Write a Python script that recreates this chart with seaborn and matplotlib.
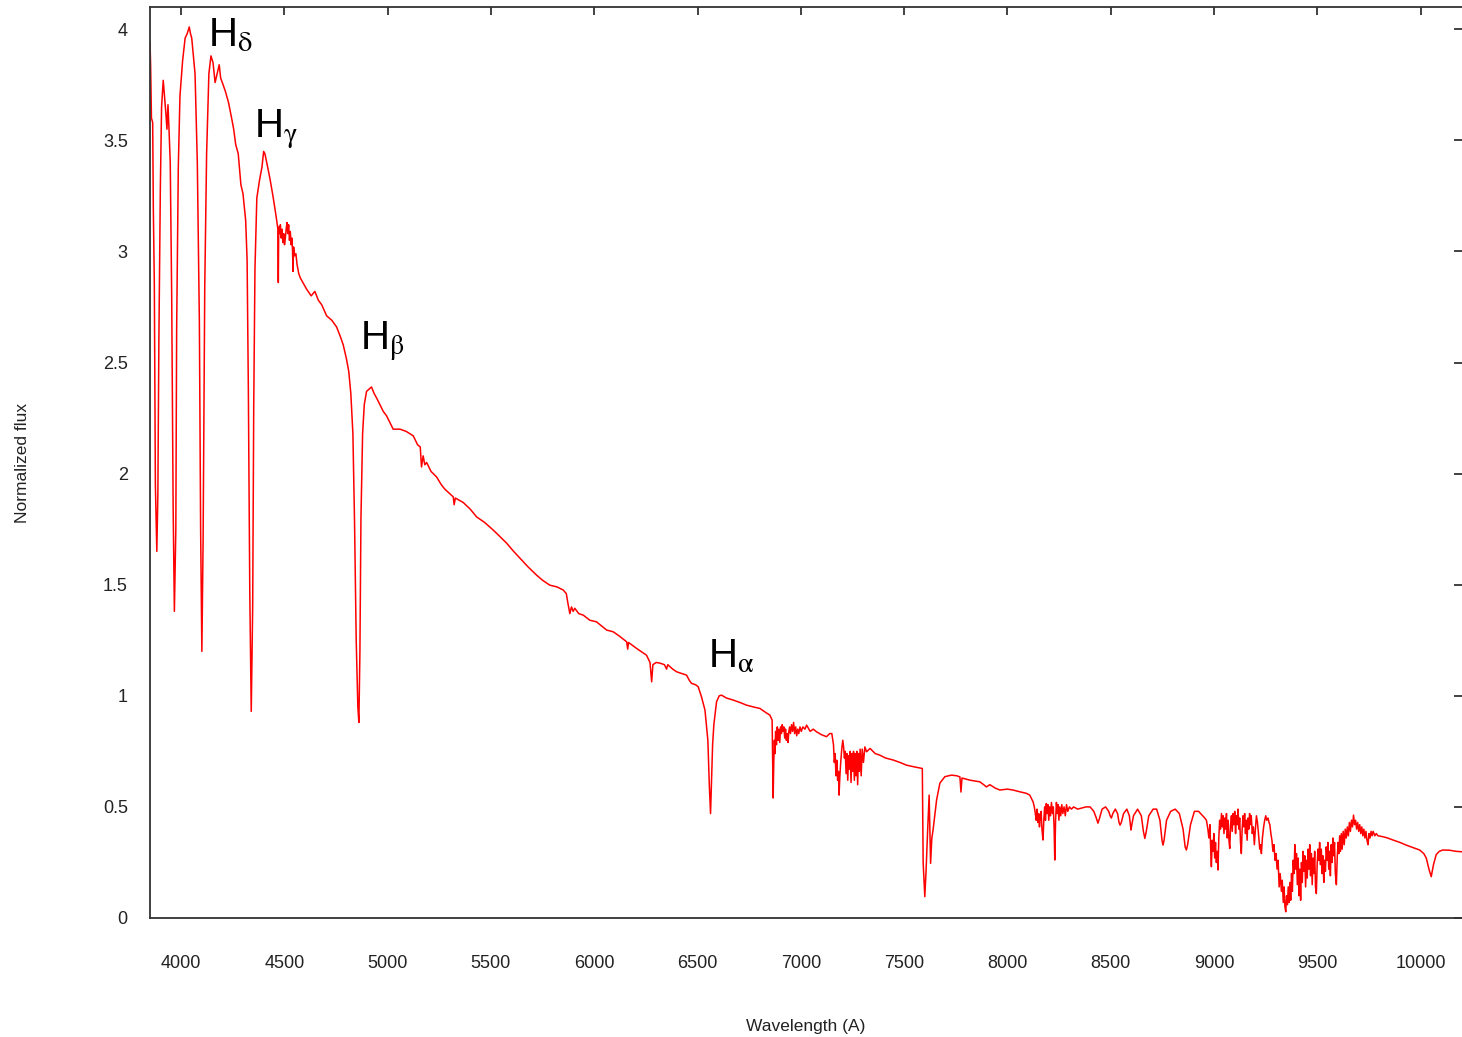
import matplotlib
matplotlib.use('Agg')
import matplotlib.pyplot as plt
import seaborn as sns

# spectrum, piece by piece (wavelength in A, normalized flux)
wl_blue = [3850, 3853, 3857, 3863, 3866, 3871, 3876, 3883, 3888, 3893,
           3900, 3906, 3914, 3920, 3927, 3932, 3937, 3942, 3948, 3955,
           3962, 3968, 3975, 3979, 3987, 3995, 4008, 4020, 4030, 4040,
           4046, 4052, 4068, 4079, 4089, 4095, 4101, 4107, 4115, 4124,
           4135, 4145, 4155, 4165, 4175, 4185, 4192, 4200, 4215, 4230,
           4245, 4255, 4265, 4277, 4290, 4300, 4313, 4320, 4326, 4333,
           4340, 4347, 4352, 4358, 4367, 4380, 4392, 4400, 4406, 4415,
           4430, 4445, 4460]
flux_blue = [3.94, 3.84, 3.60, 3.58, 3.20, 2.85, 1.95, 1.65, 1.90, 2.60,
             3.28, 3.65, 3.77, 3.70, 3.62, 3.55, 3.66, 3.55, 3.40, 2.80,
             1.85, 1.38, 1.75, 2.65, 3.38, 3.70, 3.86, 3.96, 3.98, 4.01,
             3.98, 3.96, 3.80, 3.40, 2.68, 1.75, 1.20, 1.70, 2.84, 3.44,
             3.80, 3.88, 3.85, 3.76, 3.80, 3.84, 3.78, 3.76, 3.72, 3.67,
             3.60, 3.55, 3.48, 3.44, 3.30, 3.26, 3.14, 2.96, 2.38, 1.46,
             0.93, 1.40, 2.30, 2.92, 3.24, 3.32, 3.38, 3.45, 3.44, 3.40,
             3.33, 3.25, 3.16]

wl_4500 = [4466, 4469, 4471, 4473, 4477, 4481, 4485, 4489, 4493, 4497,
           4501, 4505, 4509, 4513, 4517, 4521, 4525, 4529, 4533, 4537,
           4540, 4542, 4545, 4550, 4556, 4562, 4570, 4578, 4590]
flux_4500 = [3.12, 3.10, 2.86, 3.11, 3.08, 3.12, 3.06, 3.10, 3.04, 3.08,
             3.03, 3.06, 3.10, 3.13, 3.08, 3.12, 3.05, 3.09, 3.03, 3.06,
             3.00, 2.91, 3.02, 2.98, 2.99, 2.94, 2.90, 2.88, 2.86]

wl_visual = [4608, 4630, 4648, 4665, 4681, 4705, 4730, 4753, 4770, 4785,
             4800, 4812, 4822, 4832, 4840, 4848, 4856, 4861, 4866, 4871,
             4879, 4887, 4898, 4910, 4922, 4935, 4947, 4963, 4979, 4995,
             5011, 5027, 5060, 5090, 5124, 5145, 5158, 5164, 5172, 5180,
             5189, 5210, 5237, 5260, 5277, 5300, 5318, 5322, 5328, 5366,
             5400, 5431, 5470, 5511, 5540, 5576, 5610, 5640, 5680, 5721,
             5750, 5785, 5820, 5850, 5865, 5872, 5882, 5890, 5898, 5906,
             5925, 5947, 5979, 6011, 6060, 6092, 6120, 6157, 6162, 6166,
             6210, 6253, 6270, 6278, 6284, 6300, 6318, 6340, 6350, 6356,
             6380, 6399, 6425, 6447, 6460, 6471, 6490, 6503, 6519, 6536,
             6550, 6557, 6563, 6568, 6573, 6579, 6592, 6605, 6616, 6640,
             6672, 6705, 6737, 6770, 6802, 6830, 6850, 6861]
flux_visual = [2.83, 2.80, 2.82, 2.78, 2.76, 2.71, 2.69, 2.66, 2.62, 2.58,
               2.52, 2.46, 2.36, 2.18, 1.78, 1.25, 0.95, 0.88, 1.20, 1.80,
               2.18, 2.31, 2.37, 2.38, 2.39, 2.36, 2.34, 2.31, 2.28, 2.26,
               2.23, 2.20, 2.20, 2.19, 2.17, 2.13, 2.12, 2.03, 2.08, 2.04,
               2.05, 2.01, 1.985, 1.95, 1.93, 1.91, 1.895, 1.86, 1.89, 1.87,
               1.84, 1.805, 1.78, 1.746, 1.72, 1.687, 1.65, 1.62, 1.58, 1.543,
               1.52, 1.498, 1.49, 1.476, 1.46, 1.42, 1.37, 1.40, 1.38, 1.394,
               1.37, 1.363, 1.34, 1.333, 1.296, 1.288, 1.27, 1.243, 1.21, 1.24,
               1.21, 1.183, 1.15, 1.063, 1.14, 1.15, 1.147, 1.14, 1.12, 1.14,
               1.12, 1.108, 1.10, 1.093, 1.07, 1.056, 1.05, 1.041, 0.996, 0.936,
               0.80, 0.60, 0.47, 0.62, 0.78, 0.87, 0.973, 1.0, 1.003, 0.99,
               0.981, 0.97, 0.958, 0.95, 0.943, 0.925, 0.913, 0.891]

wl_b_band = [6866, 6869, 6872, 6875, 6878, 6882, 6886, 6890, 6894, 6898,
             6902, 6906, 6910, 6914, 6918, 6922, 6926, 6930, 6934, 6938,
             6942, 6946, 6950, 6955, 6960, 6965, 6970, 6975, 6980, 6985,
             6990, 6996, 7002, 7010, 7020, 7028,
             7045, 7060, 7076, 7100, 7124, 7140, 7150]
flux_b_band = [0.54, 0.70, 0.80, 0.74, 0.84, 0.78, 0.86, 0.80, 0.85, 0.79,
               0.86, 0.83, 0.87, 0.84, 0.86, 0.81, 0.85, 0.80, 0.83, 0.79,
               0.84, 0.86, 0.83, 0.87, 0.84, 0.88, 0.83, 0.86, 0.82, 0.85,
               0.83, 0.86, 0.84, 0.86, 0.85, 0.868,
               0.84, 0.85, 0.838, 0.825, 0.816, 0.83, 0.83]

wl_7200 = [7155, 7158, 7162, 7166, 7170, 7174, 7178, 7182, 7185,
           7189, 7193, 7198, 7203, 7207, 7211, 7215, 7219, 7223,
           7227, 7231, 7235, 7239, 7243, 7247, 7251, 7255, 7259,
           7263, 7267, 7271, 7275, 7279, 7283, 7287, 7292, 7297,
           7303, 7310, 7318]
flux_7200 = [0.80, 0.78, 0.70, 0.74, 0.64, 0.71, 0.62, 0.66, 0.553,
             0.64, 0.70, 0.76, 0.80, 0.77, 0.72, 0.75, 0.65, 0.74,
             0.62, 0.73, 0.67, 0.75, 0.61, 0.74, 0.66, 0.75, 0.62,
             0.74, 0.64, 0.75, 0.60, 0.74, 0.66, 0.76, 0.64, 0.76,
             0.70, 0.77, 0.748]

wl_a_band = [7335, 7360, 7382, 7410, 7447, 7480, 7511, 7550, 7588, 7592,
             7600, 7606, 7614, 7621, 7628, 7634, 7640, 7657, 7673, 7697,
             7729, 7755, 7770, 7775, 7780, 7820, 7866, 7885, 7898, 7915,
             7940, 7963, 8000, 8027, 8060, 8092, 8108]
flux_a_band = [0.763, 0.74, 0.733, 0.72, 0.711, 0.70, 0.688, 0.68, 0.673, 0.25,
               0.096, 0.21, 0.40, 0.553, 0.246, 0.36, 0.396, 0.531, 0.607, 0.636,
               0.643, 0.64, 0.635, 0.567, 0.63, 0.62, 0.613, 0.60, 0.59, 0.60,
               0.585, 0.576, 0.58, 0.576, 0.568, 0.561, 0.553]

wl_8200 = [8124, 8130, 8135, 8139, 8143, 8147, 8151, 8155, 8159, 8163,
           8167, 8172, 8176, 8180, 8184, 8188, 8192, 8196, 8200, 8204,
           8208, 8213, 8218, 8222, 8226, 8229, 8233, 8237, 8241, 8245,
           8249, 8253, 8258, 8263, 8268, 8274, 8280, 8286, 8292, 8300,
           8310, 8320]
flux_8200 = [0.523, 0.50, 0.47, 0.44, 0.49, 0.43, 0.47, 0.41, 0.46, 0.48,
             0.40, 0.351, 0.44, 0.50, 0.44, 0.515, 0.47, 0.51, 0.44, 0.50,
             0.46, 0.52, 0.47, 0.50, 0.40, 0.261, 0.44, 0.52, 0.47, 0.51,
             0.44, 0.50, 0.46, 0.51, 0.47, 0.50, 0.46, 0.51, 0.48, 0.50,
             0.49, 0.50]

wl_paschen = [8340, 8360, 8380, 8400, 8418, 8430, 8438, 8446, 8458, 8475,
              8490, 8497, 8503, 8510, 8522, 8533, 8540, 8545, 8551, 8562,
              8578, 8590, 8595, 8598, 8602, 8610, 8630, 8648, 8658, 8665,
              8672, 8684, 8705, 8722, 8738, 8748, 8753, 8758, 8770, 8790,
              8812, 8832, 8850, 8860, 8866, 8872, 8886, 8905, 8925, 8945]
flux_paschen = [0.49, 0.495, 0.50, 0.50, 0.48, 0.45, 0.427, 0.45, 0.49, 0.50,
                0.48, 0.46, 0.45, 0.47, 0.49, 0.47, 0.43, 0.418, 0.43, 0.47,
                0.49, 0.46, 0.42, 0.396, 0.42, 0.46, 0.49, 0.46, 0.39, 0.358,
                0.39, 0.46, 0.49, 0.49, 0.44, 0.35, 0.328, 0.35, 0.44, 0.48,
                0.49, 0.47, 0.40, 0.32, 0.306, 0.33, 0.42, 0.48, 0.48, 0.46]

wl_9100 = [8955, 8963, 8970, 8975, 8980, 8984, 8987, 8991, 8995, 8999,
           9003, 9007, 9011, 9015, 9019, 9023, 9027, 9031, 9036, 9040,
           9044, 9048, 9052, 9056, 9060, 9064, 9068, 9072, 9076, 9080,
           9084, 9088, 9092, 9096, 9100, 9104, 9108, 9112, 9116, 9120,
           9124, 9128, 9132, 9136, 9140, 9144, 9148, 9152, 9156, 9160,
           9164, 9168, 9172, 9176, 9180, 9185, 9190, 9195, 9200, 9205,
           9210, 9215, 9221, 9225, 9229, 9234, 9240, 9245, 9250, 9255,
           9261, 9266, 9270, 9275, 9280, 9285, 9290, 9295]
flux_9100 = [0.45, 0.44, 0.40, 0.36, 0.42, 0.30, 0.231, 0.35, 0.30, 0.38,
             0.27, 0.34, 0.25, 0.30, 0.216, 0.36, 0.44, 0.40, 0.47, 0.41,
             0.46, 0.38, 0.45, 0.40, 0.47, 0.36, 0.44, 0.35, 0.313, 0.42,
             0.46, 0.39, 0.47, 0.42, 0.48, 0.38, 0.46, 0.42, 0.49, 0.40,
             0.45, 0.34, 0.29, 0.40, 0.46, 0.41, 0.47, 0.38, 0.44, 0.35,
             0.45, 0.40, 0.47, 0.42, 0.46, 0.38, 0.41, 0.33, 0.40, 0.46,
             0.43, 0.38, 0.31, 0.33, 0.29, 0.36, 0.41, 0.44, 0.46, 0.44,
             0.45, 0.43, 0.42, 0.38, 0.35, 0.30, 0.33, 0.26]

wl_9400 = [9300, 9305, 9310, 9315, 9320, 9326, 9330, 9335, 9339, 9343,
           9347, 9351, 9355, 9359, 9363, 9367, 9371, 9375, 9379, 9383,
           9387, 9391, 9395, 9399, 9403, 9407, 9411, 9415, 9419, 9423,
           9427, 9431, 9435, 9439, 9443, 9447, 9451, 9455, 9459, 9463,
           9467, 9471, 9475, 9479, 9483, 9487, 9491, 9495, 9499, 9503,
           9507, 9511, 9515, 9519, 9523, 9527, 9531, 9535, 9539, 9543,
           9547, 9551, 9555, 9559, 9563, 9567, 9571, 9575, 9579, 9583,
           9587, 9592, 9596, 9600, 9604, 9608, 9612, 9616, 9620, 9625,
           9630, 9635, 9640, 9645, 9650, 9655, 9660, 9665, 9670, 9675,
           9680, 9685, 9690, 9695, 9700, 9705, 9710, 9715, 9720, 9725,
           9730, 9735, 9740, 9745, 9750, 9755, 9760, 9765, 9770, 9778,
           9785, 9793]
flux_9400 = [0.29, 0.22, 0.26, 0.14, 0.20, 0.12, 0.17, 0.07, 0.14, 0.05,
             0.028, 0.10, 0.06, 0.14, 0.07, 0.16, 0.08, 0.20, 0.12, 0.26,
             0.20, 0.33, 0.22, 0.29, 0.15, 0.27, 0.10, 0.22, 0.08, 0.25,
             0.16, 0.30, 0.21, 0.28, 0.14, 0.26, 0.18, 0.31, 0.22, 0.33,
             0.19, 0.29, 0.15, 0.27, 0.20, 0.30, 0.14, 0.11, 0.24, 0.31,
             0.26, 0.34, 0.24, 0.31, 0.20, 0.28, 0.16, 0.26, 0.21, 0.32,
             0.26, 0.34, 0.22, 0.30, 0.19, 0.33, 0.25, 0.36, 0.28, 0.34,
             0.20, 0.15, 0.27, 0.34, 0.29, 0.37, 0.30, 0.38, 0.31, 0.39,
             0.33, 0.40, 0.36, 0.41, 0.37, 0.43, 0.39, 0.44, 0.41, 0.463,
             0.42, 0.44, 0.40, 0.43, 0.39, 0.42, 0.38, 0.41, 0.37, 0.40,
             0.36, 0.39, 0.35, 0.33, 0.38, 0.36, 0.39, 0.37, 0.39, 0.37,
             0.38, 0.37]

wl_red = [9817, 9840, 9866, 9900, 9930, 9965, 9995, 10015, 10027, 10040,
          10051, 10062, 10075, 10090, 10107, 10140, 10172, 10200]
flux_red = [0.366, 0.36, 0.351, 0.34, 0.328, 0.316, 0.306, 0.29, 0.27, 0.22,
            0.186, 0.24, 0.285, 0.30, 0.306, 0.305, 0.30, 0.298]

wavelength = (wl_blue + wl_4500 + wl_visual + wl_b_band + wl_7200 + wl_a_band
              + wl_8200 + wl_paschen + wl_9100 + wl_9400 + wl_red)
flux = (flux_blue + flux_4500 + flux_visual + flux_b_band + flux_7200 + flux_a_band
        + flux_8200 + flux_paschen + flux_9100 + flux_9400 + flux_red)

line_names = ['H$_{\\mathrm{δ}}$', 'H$_{\\mathrm{γ}}$', 'H$_{\\mathrm{β}}$', 'H$_{\\mathrm{α}}$']
line_wl = [4131, 4353, 4866, 6550]
line_flux = [3.92, 3.51, 2.556, 1.125]
x_ticks = [4000, 4500, 5000, 5500, 6000, 6500, 7000, 7500, 8000, 8500, 9000, 9500, 10000]
y_ticks = [0, 0.5, 1, 1.5, 2, 2.5, 3, 3.5, 4]
y_tick_labels = ['0', '0.5', '1', '1.5', '2', '2.5', '3', '3.5', '4']

sns.set_style('white')
plt.rcParams['font.family'] = ['Liberation Sans', 'DejaVu Sans']
plt.rcParams['mathtext.fontset'] = 'stix'

fig = plt.figure(figsize=(14.62, 10.37), dpi=100)
ax = fig.add_axes([150 / 1462, 119 / 1037, 1312 / 1462, 911 / 1037])

sns.lineplot(x=wavelength, y=flux, color='red', lw=1.1, ax=ax,
             estimator=None, sort=False)

ax.set_xlim(3850, 10200)
ax.set_ylim(0, 4.1)
ax.set_xticks(x_ticks)
ax.set_xticklabels([str(t) for t in x_ticks])
ax.set_yticks(y_ticks)
ax.set_yticklabels(y_tick_labels)
ax.tick_params(direction='in', length=6, width=1.3, color='#333333',
               top=True, right=True, labelsize=13, labelcolor='#222222')
ax.tick_params(axis='x', pad=27)
ax.tick_params(axis='y', pad=16)

for side in ['left', 'bottom', 'top']:
    ax.spines[side].set_color('#333333')
    ax.spines[side].set_linewidth(1.3)
ax.spines['right'].set_visible(False)

ax.set_xlabel('Wavelength (A)', fontsize=12.5, color='#222222')
ax.set_ylabel('Normalized flux', fontsize=12.5, color='#222222')
ax.xaxis.set_label_coords(0.5, -0.111)
ax.yaxis.set_label_coords(-0.0915, 0.5)

# Balmer line labels
for name, wl, fl in zip(line_names, line_wl, line_flux):
    ax.text(wl, fl, name, fontsize=29, color='black', ha='left', va='baseline')

plt.savefig('out.png', dpi=100)
